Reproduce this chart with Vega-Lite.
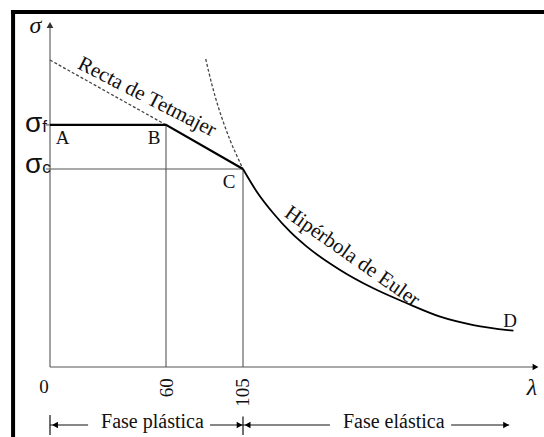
{
  "$schema": "https://vega.github.io/schema/vega-lite/v6.json",
  "autosize": "none",
  "padding": {"left": 50, "top": 22, "right": 5, "bottom": 70},
  "width": 489,
  "height": 345,
  "background": "white",
  "config": {"view": {"stroke": null}},
  "datasets": {
    "frame": [
      {"x": -20.2, "x2": 272, "y": 351.9, "y2": 351.9},
      {"x": -19.1, "x2": -19.1, "y": 353.9, "y2": -75}
    ],
    "thin": [
      {"x": 0, "x2": 0, "y": 0, "y2": 338},
      {"x": 0, "x2": 263, "y": 0, "y2": 0},
      {"x": -2.1, "x2": 0, "y": 240, "y2": 240},
      {"x": -2.1, "x2": 105, "y": 196.3, "y2": 196.3},
      {"x": 60, "x2": 60, "y": 0, "y2": 240},
      {"x": 105, "x2": 105, "y": 0, "y2": 196.3}
    ],
    "annot": [
      {"x": 0, "x2": 0, "y": -47.6, "y2": -67.4},
      {"x": 105, "x2": 105, "y": -49, "y2": -67.4},
      {"x": 0, "x2": 19.7, "y": -57.5, "y2": -57.5},
      {"x": 85.7, "x2": 105, "y": -57.5, "y2": -57.5},
      {"x": 105, "x2": 152.3, "y": -57.5, "y2": -57.5},
      {"x": 218.2, "x2": 249.8, "y": -57.5, "y2": -57.5}
    ],
    "plateau": [
      {"x": 0, "y": 240},
      {"x": 60, "y": 240},
      {"x": 105, "y": 196.3}
    ],
    "euler": [
      {"x": 105, "y": 196.3},
      {"x": 112.5, "y": 173.8},
      {"x": 121.5, "y": 152.4},
      {"x": 130.6, "y": 134.1},
      {"x": 139.7, "y": 119.3},
      {"x": 157.8, "y": 96.2},
      {"x": 175.9, "y": 78.0},
      {"x": 194.1, "y": 63.2},
      {"x": 212.2, "y": 49.9},
      {"x": 230.3, "y": 41.6},
      {"x": 252.1, "y": 36.0}
    ],
    "dashed": [
      {"s": "t", "x": 0, "y": 304.3},
      {"s": "t", "x": 60, "y": 240},
      {"s": "e", "x": 83.2, "y": 305.3},
      {"s": "e", "x": 86.9, "y": 279.5},
      {"s": "e", "x": 90.4, "y": 258.7},
      {"s": "e", "x": 93.9, "y": 240.9},
      {"s": "e", "x": 97.4, "y": 225.0},
      {"s": "e", "x": 101.2, "y": 210.2},
      {"s": "e", "x": 105, "y": 196.3}
    ],
    "arrUp": [{"x": 0, "y": 339}],
    "arrRight": [
      {"x": 264.1, "y": 0},
      {"x": 103, "y": -57.5},
      {"x": 248.1, "y": -57.5}
    ],
    "arrLeft": [
      {"x": 2.6, "y": -57.5},
      {"x": 107.5, "y": -57.5}
    ],
    "letters": [
      {"x": 6.5, "y": 221.1, "t": "A"},
      {"x": 53.8, "y": 221.1, "t": "B"},
      {"x": 96.8, "y": 177.4, "t": "C"},
      {"x": 250.3, "y": 39.7, "t": "D"},
      {"x": -3.1, "y": -26.1, "t": "0"}
    ],
    "rot": [
      {"x": 60.4, "y": -11.2, "t": "60"},
      {"x": 105, "y": -11.2, "t": "105"}
    ],
    "italic": [
      {"x": -7.5, "y": 331, "t": "σ"},
      {"x": 262.2, "y": -27.8, "t": "λ"}
    ],
    "sig": [
      {"x": -4, "y": 232.5, "t": "σ"},
      {"x": -4, "y": 192.3, "t": "σ"}
    ],
    "sub": [
      {"x": -4, "y": 232.5, "t": "f"},
      {"x": -4, "y": 192.3, "t": "c"}
    ],
    "tet": [{"x": 50.2, "y": 267.5, "t": "Recta de Tetmajer"}],
    "eul": [{"x": 164.3, "y": 109.5, "t": "Hipérbola de Euler"}],
    "fase": [
      {"x": 53.0, "y": -60.5, "t": "Fase plástica"},
      {"x": 187.0, "y": -60.5, "t": "Fase elástica"}
    ]
  },
  "encoding": {
    "x": {"field": "x", "type": "quantitative", "axis": null,
          "scale": {"domain": [0, 60, 105, 266], "range": [0, 116, 193, 489], "nice": false, "zero": false}},
    "y": {"field": "y", "type": "quantitative", "axis": null,
          "scale": {"domain": [0, 342], "nice": false, "zero": false}}
  },
  "layer": [
    {"data": {"name": "frame"}, "mark": {"type": "rule", "color": "black", "strokeWidth": 4},
     "encoding": {"x2": {"field": "x2"}, "y2": {"field": "y2"}}},
    {"data": {"name": "thin"}, "mark": {"type": "rule", "color": "#555555", "strokeWidth": 1.1},
     "encoding": {"x2": {"field": "x2"}, "y2": {"field": "y2"}}},
    {"data": {"name": "annot"}, "mark": {"type": "rule", "color": "#111111", "strokeWidth": 1.2},
     "encoding": {"x2": {"field": "x2"}, "y2": {"field": "y2"}}},
    {"data": {"name": "dashed"}, "mark": {"type": "line", "color": "#444444", "strokeWidth": 1.3, "strokeDash": [3, 2], "interpolate": "monotone"},
     "encoding": {"detail": {"field": "s"}}},
    {"data": {"name": "plateau"}, "mark": {"type": "line", "color": "black", "strokeWidth": 2.2},
     "encoding": {}},
    {"data": {"name": "euler"}, "mark": {"type": "line", "color": "black", "strokeWidth": 1.8, "interpolate": "monotone"},
     "encoding": {}},
    {"data": {"name": "arrUp"}, "mark": {"type": "point", "shape": "triangle-up", "filled": true, "color": "#333333", "size": 45, "opacity": 1}},
    {"data": {"name": "arrRight"}, "mark": {"type": "point", "shape": "triangle-right", "filled": true, "color": "black", "size": 45, "opacity": 1}},
    {"data": {"name": "arrLeft"}, "mark": {"type": "point", "shape": "triangle-left", "filled": true, "color": "black", "size": 45, "opacity": 1}},
    {"data": {"name": "letters"}, "mark": {"type": "text", "font": "Liberation Serif", "fontSize": 19, "align": "center", "baseline": "alphabetic", "color": "#111111"},
     "encoding": {"text": {"field": "t"}}},
    {"data": {"name": "rot"}, "mark": {"type": "text", "font": "Liberation Serif", "fontSize": 19, "align": "right", "baseline": "middle", "angle": 270, "color": "#111111"},
     "encoding": {"text": {"field": "t"}}},
    {"data": {"name": "italic"}, "mark": {"type": "text", "font": "Liberation Serif", "fontStyle": "italic", "fontSize": 24, "align": "center", "baseline": "alphabetic", "color": "#111111"},
     "encoding": {"text": {"field": "t"}}},
    {"data": {"name": "sig"}, "mark": {"type": "text", "font": "Liberation Sans", "fontSize": 28, "align": "right", "baseline": "alphabetic", "color": "#111111"},
     "encoding": {"text": {"field": "t"}}},
    {"data": {"name": "sub"}, "mark": {"type": "text", "font": "Liberation Sans", "fontSize": 17, "align": "left", "baseline": "alphabetic", "color": "#111111"},
     "encoding": {"text": {"field": "t"}}},
    {"data": {"name": "tet"}, "mark": {"type": "text", "font": "Liberation Serif", "fontSize": 21, "align": "center", "baseline": "middle", "angle": 27, "color": "#111111"},
     "encoding": {"text": {"field": "t"}}},
    {"data": {"name": "eul"}, "mark": {"type": "text", "font": "Liberation Serif", "fontSize": 21, "align": "center", "baseline": "middle", "angle": 35, "color": "#111111"},
     "encoding": {"text": {"field": "t"}}},
    {"data": {"name": "fase"}, "mark": {"type": "text", "font": "Liberation Serif", "fontSize": 20, "align": "center", "baseline": "alphabetic", "color": "#111111"},
     "encoding": {"text": {"field": "t"}}}
  ]
}
